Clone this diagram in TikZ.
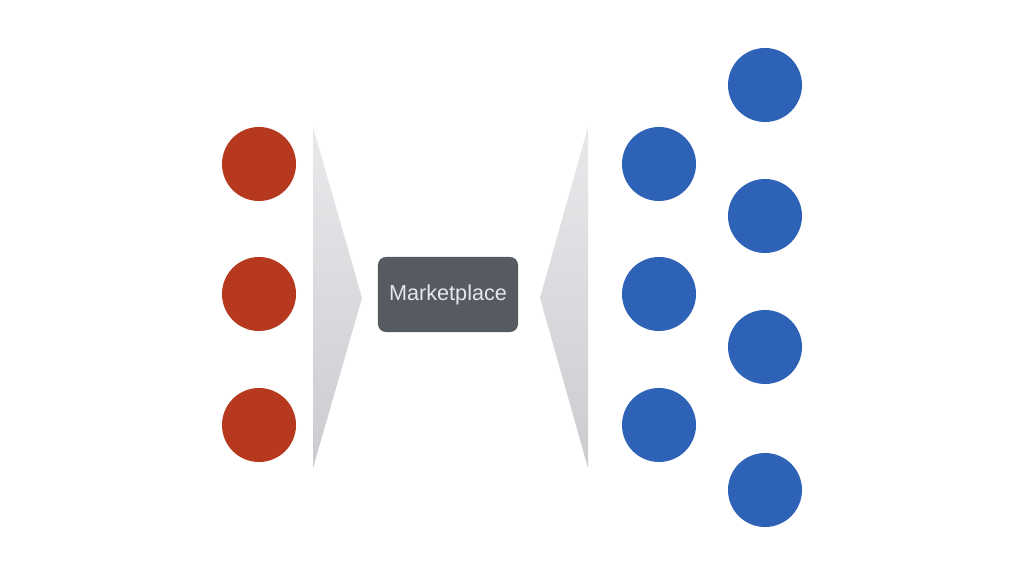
\documentclass[tikz,border=0pt]{standalone}
\usepackage{fontspec}
\setmainfont{Liberation Sans}
\definecolor{sellerred}{HTML}{B5381F}
\definecolor{buyerblue}{HTML}{2D62B6}
\definecolor{marketgray}{HTML}{565A61}
\definecolor{marketfont}{HTML}{E2E7F0}
\definecolor{funneltop}{HTML}{E8E9EB}
\definecolor{funnelbottom}{HTML}{CBCCCF}
\begin{document}
\begin{tikzpicture}
[
    x=0.025cm, y=-0.025cm,
    seller/.style={circle, fill=sellerred, minimum size=1.85cm, inner sep=0pt},
    buyer/.style={circle, fill=buyerblue, minimum size=1.85cm, inner sep=0pt},
    market/.style={rectangle, rounded corners=0.2cm, fill=marketgray, text=marketfont,
        minimum width=3.5cm, minimum height=1.875cm, font=\fontsize{15.4}{18}\selectfont},
    funnel/.style={top color=funneltop, bottom color=funnelbottom},
]
\useasboundingbox (0,0) rectangle (1024,576);
% sellers
\foreach \i/\y in {1/164, 2/294, 3/425}
    \node [seller] (seller\i) at (259,\y) {};
% buyers
\foreach \i/\y in {1/164, 2/294, 3/425}
    \node [buyer] (buyerA\i) at (659,\y) {};
\foreach \i/\y in {1/85, 2/216, 3/347, 4/490}
    \node [buyer] (buyerB\i) at (765,\y) {};
% funnels
\shade [funnel] (313,127) -- (313,468) -- (362,298) -- cycle;
\shade [funnel] (588,127) -- (588,468) -- (540,298) -- cycle;
\node [market] (market) at (448,294.5) {Marketplace};
\end{tikzpicture}
\end{document}
